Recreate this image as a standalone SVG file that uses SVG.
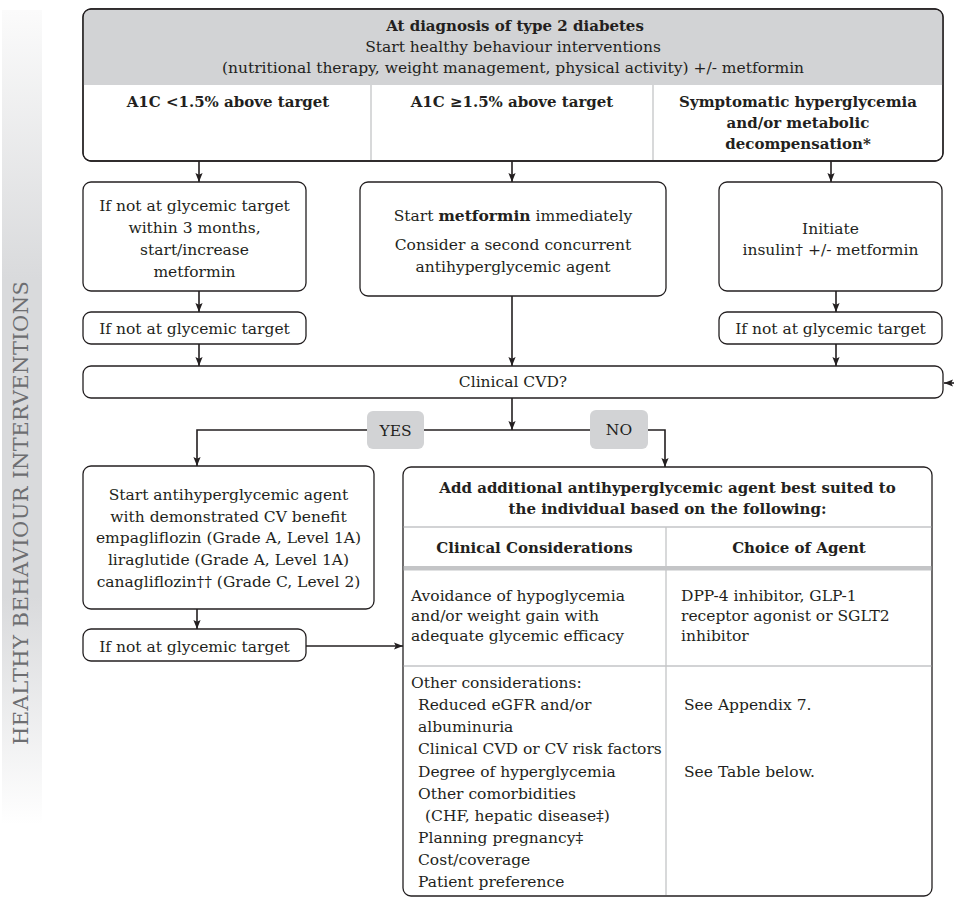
<svg xmlns="http://www.w3.org/2000/svg" width="954" height="898" viewBox="0 0 954 898">
<style>
text{font-family:"DejaVu Serif","Liberation Serif",serif;font-size:15.5px;fill:#231f20}
.c{text-anchor:middle}
.b{font-weight:bold;font-size:15px}
.box{fill:#fff;stroke:#231f20;stroke-width:1.3}
.lbl{fill:#d2d3d5;stroke:none}
.div{stroke:#c4c5c7;stroke-width:1.3;fill:none}
.con{stroke:#231f20;stroke-width:1.6;fill:none}
.side{font-size:21px;fill:#6d6e71;letter-spacing:2px}
</style>
<defs>
<marker id="ah" viewBox="0 0 10 10" refX="10" refY="5" markerWidth="9" markerHeight="9" markerUnits="userSpaceOnUse" orient="auto">
<path d="M0,1 L10,5 L0,9 L2,5 Z" fill="#231f20"/>
</marker>
<linearGradient id="sg" x1="0" y1="0" x2="0" y2="1">
<stop offset="0" stop-color="#fbfbfb"/>
<stop offset="0.33" stop-color="#d9dadc"/>
<stop offset="0.72" stop-color="#d9dadc"/>
<stop offset="1" stop-color="#ffffff"/>
</linearGradient>
</defs>
<rect width="954" height="898" fill="#fff"/>
<g id="sidebar">
<rect x="2" y="10" width="40" height="815" fill="url(#sg)"/>
<text class="side c" transform="translate(28,512) rotate(-90)" textLength="466" lengthAdjust="spacing">HEALTHY BEHAVIOUR INTERVENTIONS</text>
</g>
<g id="connectors">
<path class="con" d="M199,161 V182" marker-end="url(#ah)"/>
<path class="con" d="M512,161 V182" marker-end="url(#ah)"/>
<path class="con" d="M831,161 V182" marker-end="url(#ah)"/>
<path class="con" d="M199,291 V312" marker-end="url(#ah)"/>
<path class="con" d="M199,344 V366" marker-end="url(#ah)"/>
<path class="con" d="M512,296 V366" marker-end="url(#ah)"/>
<path class="con" d="M836,291 V312" marker-end="url(#ah)"/>
<path class="con" d="M836,344 V366" marker-end="url(#ah)"/>
<path class="con" d="M956,383 H944" marker-end="url(#ah)"/>
<path class="con" d="M512,398 V430" marker-end="url(#ah)"/>
<path class="con" d="M367,430 H197 V466" marker-end="url(#ah)"/>
<path class="con" d="M424,430 H590"/>
<path class="con" d="M648,430 H665 V467" marker-end="url(#ah)"/>
<path class="con" d="M197,609 V629" marker-end="url(#ah)"/>
<path class="con" d="M306,646 H403" marker-end="url(#ah)"/>
</g>
<g id="diagnosis">
<rect class="box" x="83" y="9" width="860" height="152" rx="8"/>
<path class="lbl" d="M83.7,85 V17 Q83.7,9.7 91,9.7 H935 Q942.3,9.7 942.3,17 V85 Z"/>
<rect x="83" y="9" width="860" height="152" rx="8" fill="none" stroke="#231f20" stroke-width="1.3"/>
<path class="div" d="M371,85 V160 M653,85 V160"/>
<text class="c b" x="515" y="30.5">At diagnosis of type 2 diabetes</text>
<text class="c" x="513" y="51.5">Start healthy behaviour interventions</text>
<text class="c" x="513" y="73">(nutritional therapy, weight management, physical activity) +/- metformin</text>
<text class="c b" x="228" y="106.5">A1C &lt;1.5% above target</text>
<text class="c b" x="512" y="106.5">A1C ≥1.5% above target</text>
<text class="c b" x="798" y="106.5">Symptomatic hyperglycemia</text>
<text class="c b" x="798" y="127.5">and/or metabolic</text>
<text class="c b" x="798" y="148.5">decompensation*</text>
</g>
<g id="low-a1c">
<rect class="box" x="83" y="182" width="223" height="109" rx="8"/>
<text class="c" x="194.5" y="210.5">If not at glycemic target</text>
<text class="c" x="194.5" y="232.5">within 3 months,</text>
<text class="c" x="194.5" y="254.5">start/increase</text>
<text class="c" x="194.5" y="276.5">metformin</text>
</g>
<g id="high-a1c">
<rect class="box" x="360" y="182" width="306" height="114" rx="8"/>
<text class="c" x="513" y="220.5">Start <tspan class="b" style="font-size:15.5px">metformin</tspan> immediately</text>
<text class="c" x="513" y="249.5">Consider a second concurrent</text>
<text class="c" x="513" y="271.5">antihyperglycemic agent</text>
</g>
<g id="symptomatic">
<rect class="box" x="719" y="182" width="223" height="109" rx="8"/>
<text class="c" x="830.5" y="233.5">Initiate</text>
<text class="c" x="830.5" y="255">insulin† +/- metformin</text>
</g>
<g id="target-left">
<rect class="box" x="83" y="312" width="223" height="32" rx="8"/>
<text class="c" x="194.5" y="333.5">If not at glycemic target</text>
</g>
<g id="target-right">
<rect class="box" x="719" y="312" width="223" height="32" rx="8"/>
<text class="c" x="830.5" y="333.5">If not at glycemic target</text>
</g>
<g id="cvd">
<rect class="box" x="83" y="366" width="860" height="32" rx="8"/>
<text class="c" x="513" y="387">Clinical CVD?</text>
</g>
<g id="yes">
<rect class="lbl" x="367" y="411" width="57" height="38" rx="6"/>
<text class="c" x="395.5" y="435.5">YES</text>
</g>
<g id="no">
<rect class="lbl" x="590" y="410" width="58" height="39" rx="6"/>
<text class="c" x="619" y="435">NO</text>
</g>
<g id="cv-benefit">
<rect class="box" x="83" y="466" width="291" height="143" rx="8"/>
<text class="c" x="228.5" y="499.5">Start antihyperglycemic agent</text>
<text class="c" x="228.5" y="521.5">with demonstrated CV benefit</text>
<text class="c" x="228.5" y="543">empagliflozin (Grade A, Level 1A)</text>
<text class="c" x="228.5" y="564.5">liraglutide (Grade A, Level 1A)</text>
<text class="c" x="228.5" y="586.5">canagliflozin†† (Grade C, Level 2)</text>
</g>
<g id="target-bottom">
<rect class="box" x="83" y="629" width="223" height="32" rx="8"/>
<text class="c" x="194.5" y="651.5">If not at glycemic target</text>
</g>
<g id="additional-agent">
<rect class="box" x="403" y="467" width="529" height="429" rx="8"/>
<path class="div" d="M403.7,527 H931.3 M666,527 V895 M403.7,666 H931.3"/>
<rect x="403.7" y="566" width="527.6" height="4.5" fill="#c4c5c7"/>
<text class="c b" x="667.5" y="493">Add additional antihyperglycemic agent best suited to</text>
<text class="c b" x="667.5" y="514">the individual based on the following:</text>
<text class="c b" x="534.5" y="552.5">Clinical Considerations</text>
<text class="c b" x="799" y="552.5">Choice of Agent</text>
<text x="411" y="600.5">Avoidance of hypoglycemia</text>
<text x="411" y="620.5">and/or weight gain with</text>
<text x="411" y="640.5">adequate glycemic efficacy</text>
<text x="681" y="600.5">DPP-4 inhibitor, GLP-1</text>
<text x="681" y="620.5">receptor agonist or SGLT2</text>
<text x="681" y="640.5">inhibitor</text>
<text x="411" y="688">Other considerations:</text>
<text x="418" y="710">Reduced eGFR and/or</text>
<text x="418" y="732">albuminuria</text>
<text x="418" y="754">Clinical CVD or CV risk factors</text>
<text x="418" y="776.5">Degree of hyperglycemia</text>
<text x="418" y="798.5">Other comorbidities</text>
<text x="425" y="821">(CHF, hepatic disease‡)</text>
<text x="418" y="843">Planning pregnancy‡</text>
<text x="418" y="865">Cost/coverage</text>
<text x="418" y="887">Patient preference</text>
<text x="684" y="710">See Appendix 7.</text>
<text x="684" y="776.5">See Table below.</text>
</g>
</svg>
